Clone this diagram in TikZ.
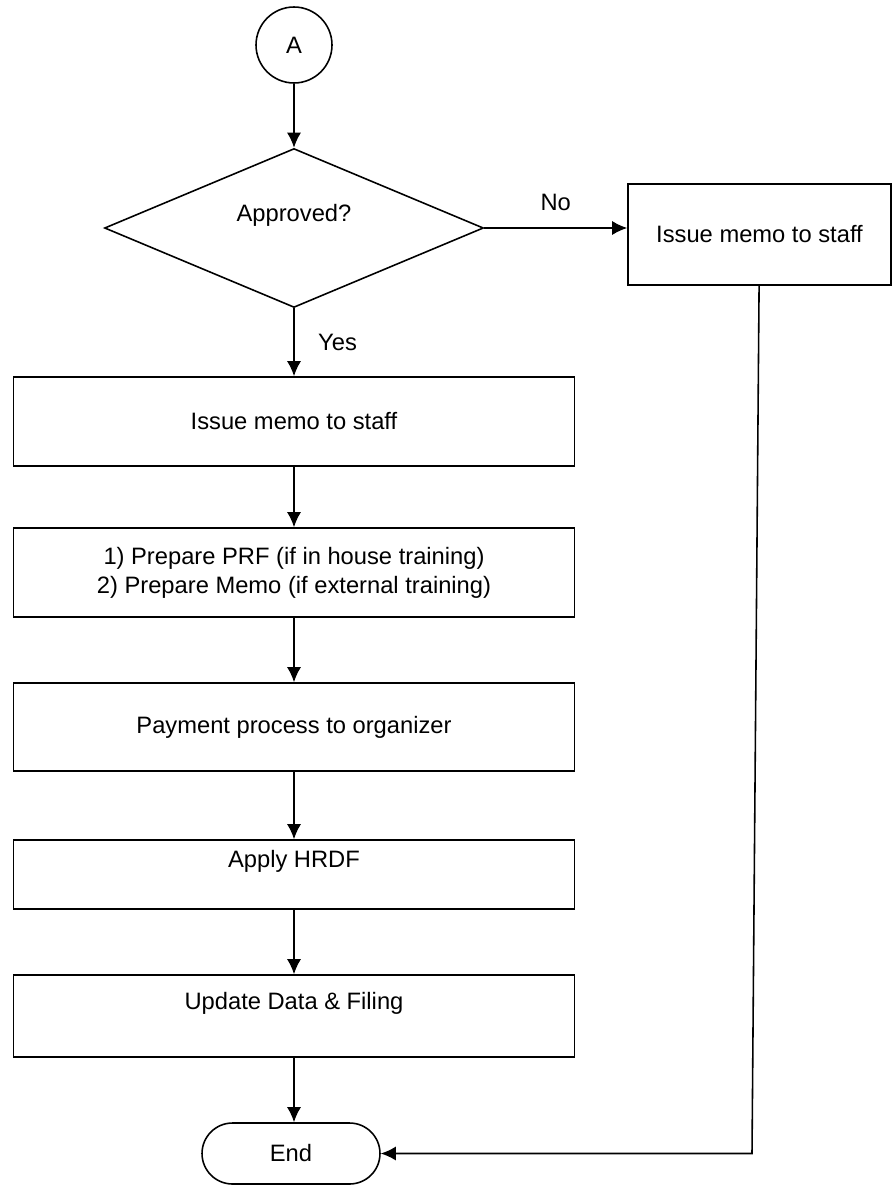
\documentclass[tikz,border=0pt]{standalone}
\usepackage{fontspec}
\setmainfont{Liberation Sans}
\usetikzlibrary{shapes.geometric,shapes.misc,arrows.meta}

\begin{document}
\begin{tikzpicture}[x=0.02cm,y=-0.02cm,line width=0.9pt,
    every node/.style={font=\fontsize{13.5}{16.5}\selectfont},
    procbox/.style={rectangle,draw,minimum width=11.22cm,inner sep=0pt,align=center},
    flow/.style={-{Latex[length=3mm,width=2.8mm]}}]
  \useasboundingbox (0,0) rectangle (892,1186);
  % start and decision
  \node[circle,draw,minimum size=1.52cm,inner sep=0pt](a)at(294,45){A};
  \node[diamond,draw,shape aspect=2.4,minimum width=7.58cm,minimum height=3.18cm,inner sep=0pt,text depth=0.6cm](q)at(294,228){Approved?};
  \node[procbox,minimum width=5.26cm,minimum height=2.02cm](no)at(759.5,234.5){Issue memo to staff};
  % main column
  \node[procbox,minimum height=1.78cm](s1)at(294,421.5){Issue memo to staff};
  \node[procbox,minimum height=1.78cm](s2)at(294,572.5){1) Prepare PRF (if in house training)\\2) Prepare Memo (if external training)};
  \node[procbox,minimum height=1.76cm](s3)at(294,727){Payment process to organizer};
  \node[procbox,minimum height=1.38cm,text depth=0.64cm](s4)at(294,874.5){Apply HRDF};
  \node[procbox,minimum height=1.64cm,text depth=0.6cm](s5)at(294,1016){Update Data \& Filing};
  \node[rounded rectangle,draw,minimum width=3.56cm,minimum height=1.22cm,inner sep=0pt](e)at(291,1153.5){End};
  \coordinate(turn)at(752,1153.5);
  % connectors
  \draw[flow](a)--(q);
  \draw[flow](q.east)--(no.west|-q.east) node[midway,above=6pt]{No};
  \draw[flow](q)--(s1) node[midway,right=10pt]{Yes};
  \draw[flow](s1)--(s2);
  \draw[flow](s2)--(s3);
  \draw[flow](s3)--(s4);
  \draw[flow](s4)--(s5);
  \draw[flow](s5)--(s5|-e.north);
  \draw[flow](no)--(turn)--(e);
\end{tikzpicture}
\end{document}
